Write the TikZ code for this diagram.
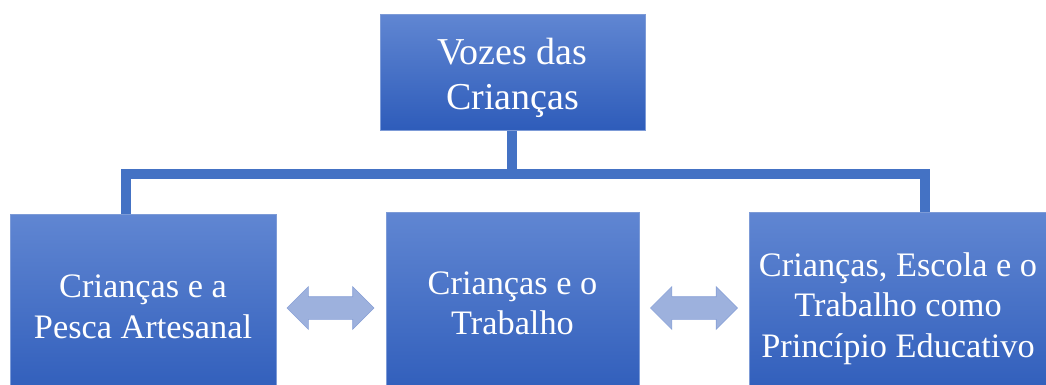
\documentclass[tikz,border=0pt]{standalone}
\usepackage{fontspec}
\setmainfont{Liberation Serif}
\usetikzlibrary{shapes.arrows}
\definecolor{boxtop}{RGB}{96,134,210}
\definecolor{boxbot}{RGB}{46,92,186}
\definecolor{boxline}{RGB}{125,155,215}
\definecolor{conn}{RGB}{68,114,196}
\definecolor{arrfill}{RGB}{157,177,221}
\definecolor{arrline}{RGB}{135,160,214}
\tikzset{
  box/.style={rectangle, draw=boxline, line width=0.8pt, top color=boxtop, bottom color=boxbot, inner sep=0pt, anchor=north west},
  lbl/.style={text=white, align=center, inner sep=0pt, anchor=center},
  big/.style={font=\fontsize{38}{45}\selectfont},
  med/.style={font=\fontsize{34.3}{40.5}\selectfont},
  connline/.style={draw=conn, line width=10.5pt, line join=miter},
  dblarrow/.style={double arrow, draw=arrline, fill=arrfill, line width=0.6pt, inner xsep=0pt, inner ysep=11pt, minimum height=87pt, double arrow head extend=10pt}
}
\begin{document}
\begin{tikzpicture}[x=1pt,y=-1pt]
\useasboundingbox (0,0) rectangle (1046,385);
\clip (0,0) rectangle (1046,385);
% boxes
\node[box, minimum width=265pt, minimum height=116pt] (top) at (380,14) {};
\node[box, minimum width=266pt, minimum height=190pt] (left) at (10,214) {};
\node[box, minimum width=253pt, minimum height=190pt] (mid) at (386,212) {};
\node[box, minimum width=298pt, minimum height=190pt] (right) at (749,212) {};
% connectors
\coordinate (hub) at (512,174);
\coordinate (lj) at (126,174);
\coordinate (rj) at (925,174);
\draw[connline] (top.south -| hub) -- (hub);
\draw[connline] (lj |- left.north) -- (lj) -- (rj) -- (rj |- right.north);
% labels
\node[lbl, big] (ttop) at (512.5,77.6) {Vozes das\\Crianças};
\node[lbl, med] (tleft) at (143,306.9) {Crianças e a\\Pesca Artesanal};
\node[lbl, med] (tmid) at (512.5,303.4) {Crianças e o\\Trabalho};
\node[lbl, med] (tright) at (898,308.6) {Crianças, Escola e o\\Trabalho como\\Princípio Educativo};
% double arrows
\node[dblarrow] (a1) at (330.5,308) {};
\node[dblarrow] (a2) at (694,308) {};
\end{tikzpicture}
\end{document}
